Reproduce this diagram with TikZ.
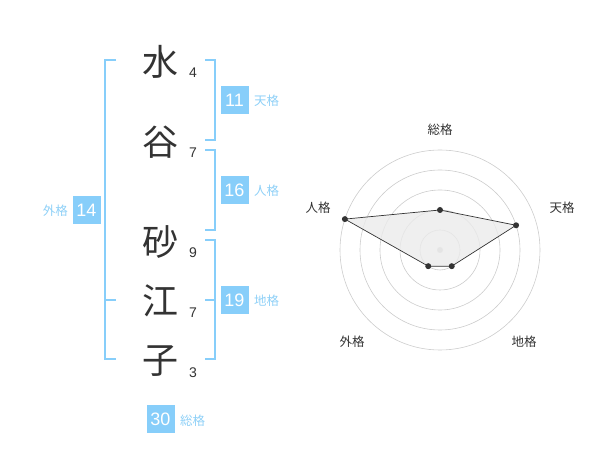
\documentclass[tikz,border=0pt]{standalone}
\usepackage{fontspec}
\setmainfont{Liberation Sans}
\newfontfamily\cjk{Noto Sans CJK JP}
\usetikzlibrary{calc}
\definecolor{kblue}{HTML}{87CEFA}
\definecolor{lblue}{HTML}{8ED0F7}
\definecolor{ink}{HTML}{333333}
\definecolor{ring}{HTML}{CCCCCC}
\tikzset{
  kanji/.style={font=\cjk\fontsize{36}{36}\selectfont, text=ink, inner sep=0pt},
  strokes/.style={font=\fontsize{14}{14}\selectfont, text=ink, inner sep=0pt},
  numbox/.style={fill=kblue, text=white, minimum width=28pt, minimum height=28pt, inner sep=0pt, font=\fontsize{18}{18}\selectfont},
  kaku/.style={font=\cjk\fontsize{12.5}{12.5}\selectfont, text=lblue, inner sep=0pt},
  bracket/.style={draw=kblue, line width=1.6pt},
  axislabel/.style={font=\cjk\fontsize{12.5}{12.5}\selectfont, text=ink, inner sep=0pt},
  ringline/.style={draw=ring, line width=0.6pt},
  dot/.style={circle, fill=ink, minimum size=6pt, inner sep=0pt},
}
\begin{document}
\begin{tikzpicture}[x=1pt,y=-1pt]
\useasboundingbox (0,0) rectangle (600,470);
% kanji
\node[kanji] (k1) at (160,62) {水};
\node[kanji] (k2) at (160,142) {谷};
\node[kanji] (k3) at (160,242) {砂};
\node[kanji] (k4) at (160,301) {江};
\node[kanji] (k5) at (160,361) {子};
% stroke counts
\node[strokes] (n1) at (193,73) {4};
\node[strokes] (n2) at (193,153) {7};
\node[strokes] (n3) at (193,253) {9};
\node[strokes] (n4) at (193,313) {7};
\node[strokes] (n5) at (193,373) {3};
% left bracket (gaikaku)
\draw[bracket] (116,60) -- (105,60) -- (105,359) -- (116,359);
\draw[bracket] (105,300) -- (116,300);
% right brackets
\draw[bracket] (205,60) -- (215,60) -- (215,140) -- (205,140);
\draw[bracket] (205,150) -- (215,150) -- (215,230) -- (205,230);
\draw[bracket] (205,240) -- (215,240) -- (215,359) -- (205,359);
\draw[bracket] (205,300) -- (215,300);
% boxes and labels
\node[numbox] (b1) at (234.5,100.5) {11};
\node[kaku, anchor=west] (l1) at (254,101) {天格};
\node[numbox] (b2) at (234.5,190.5) {16};
\node[kaku, anchor=west] (l2) at (254,191) {人格};
\node[numbox] (b3) at (234.5,300.5) {19};
\node[kaku, anchor=west] (l3) at (254,301) {地格};
\node[numbox] (b4) at (86.5,210) {14};
\node[kaku, anchor=east] (l4) at (68,211) {外格};
\node[numbox] (b5) at (160.5,419) {30};
\node[kaku, anchor=west] (l5) at (180,421) {総格};
% radar chart
\coordinate (c) at (440,250);
\foreach \r in {20,40,60,80,100} \draw[ringline] (c) circle[radius=\r];
\fill[ring] (c) circle[radius=3];
\coordinate (pS) at ($(c)+(-90:40)$);
\coordinate (pT) at ($(c)+(-18:80)$);
\coordinate (pC) at ($(c)+(54:20)$);
\coordinate (pG) at ($(c)+(126:20)$);
\coordinate (pJ) at ($(c)+(198:100)$);
\fill[black!8, opacity=0.8] (pS) -- (pT) -- (pC) -- (pG) -- (pJ) -- cycle;
\draw[ink, line width=0.7pt] (pS) -- (pT) -- (pC) -- (pG) -- (pJ) -- cycle;
\foreach \p in {pS,pT,pC,pG,pJ} \node[dot] at (\p) {};
\node[axislabel] (aS) at (440,130) {総格};
\node[axislabel] (aT) at (562,208) {天格};
\node[axislabel] (aC) at (524,342) {地格};
\node[axislabel] (aG) at (352,342) {外格};
\node[axislabel] (aJ) at (318,208) {人格};
\end{tikzpicture}
\end{document}
